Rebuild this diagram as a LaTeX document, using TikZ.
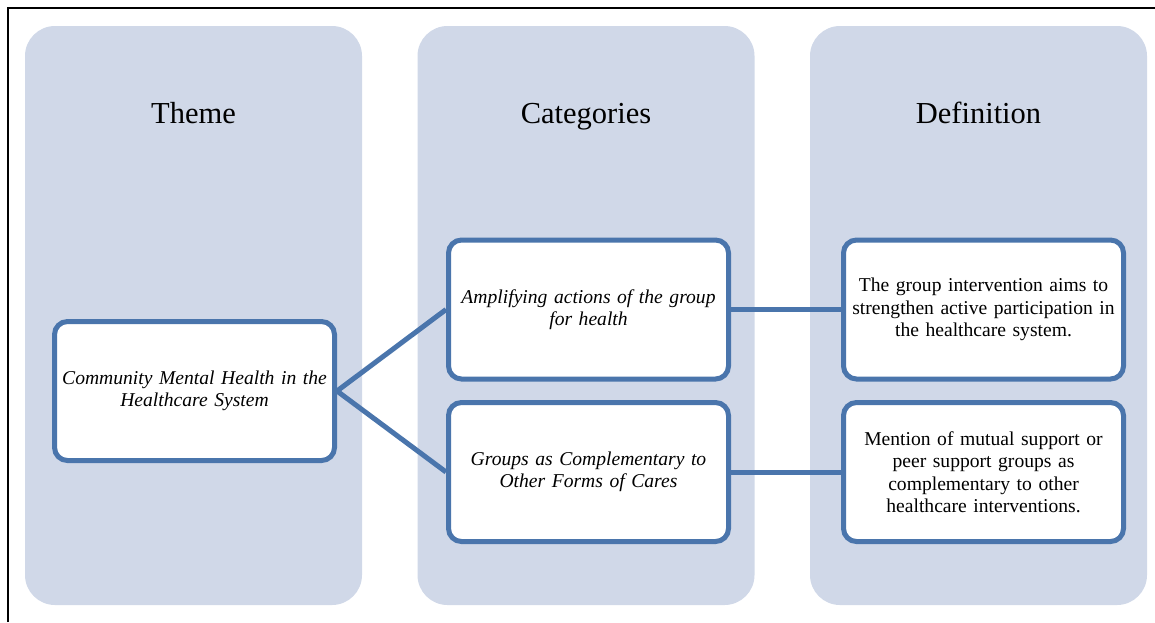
\documentclass[tikz,border=0pt]{standalone}
\usepackage{fontspec}
\setmainfont{Liberation Serif}
\definecolor{colfill}{RGB}{208,216,232}
\definecolor{boxline}{RGB}{74,117,172}
\tikzset{
  column/.style={rectangle, fill=colfill, rounded corners=30pt, minimum width=337pt, minimum height=579pt, inner sep=0pt},
  header/.style={font=\fontsize{30.5}{34}\selectfont, inner sep=0pt, anchor=base},
  itembox/.style={rectangle, draw=boxline, line width=5pt, fill=white, rounded corners=13pt, minimum width=280pt, minimum height=139pt, align=center, text width=274pt, inner sep=0pt, font=\fontsize{19.6}{22.5}\selectfont},
  link/.style={draw=boxline, line width=5pt}
}
\begin{document}
\begin{tikzpicture}[x=1pt,y=-1pt]
\useasboundingbox (0,0) rectangle (1155,622);
\draw[line width=2pt] (8,622) -- (8,8) -- (1155,8);
\node[column] (col1) at (193.5,315.5) {};
\node[column] (col2) at (586,315.5) {};
\node[column] (col3) at (978.5,315.5) {};
\node[header] (h1) at (193.5,123) {Theme};
\node[header] (h2) at (586,123) {Categories};
\node[header] (h3) at (978.5,123) {Definition};
\node[itembox] (theme) at (194.5,391) {\itshape Community Mental Health in the\\ Healthcare System};
\node[itembox] (cat1) at (588.5,309.5) {\itshape Amplifying actions of the group\\ for health};
\node[itembox] (cat2) at (588.5,472) {\itshape Groups as Complementary to\\ Other Forms of Cares};
\node[itembox] (def1) at (983.5,309.5) {The group intervention aims to\\ strengthen active participation in\\ the healthcare system.};
\node[itembox] (def2) at (983.5,472) {Mention of mutual support or\\ peer support groups as\\ complementary to other\\ healthcare interventions.};
\draw[link] (theme.east) -- (cat1.west);
\draw[link] (theme.east) -- (cat2.west);
\draw[link] (cat1.east) -- (def1.west);
\draw[link] (cat2.east) -- (def2.west);
\end{tikzpicture}
\end{document}
